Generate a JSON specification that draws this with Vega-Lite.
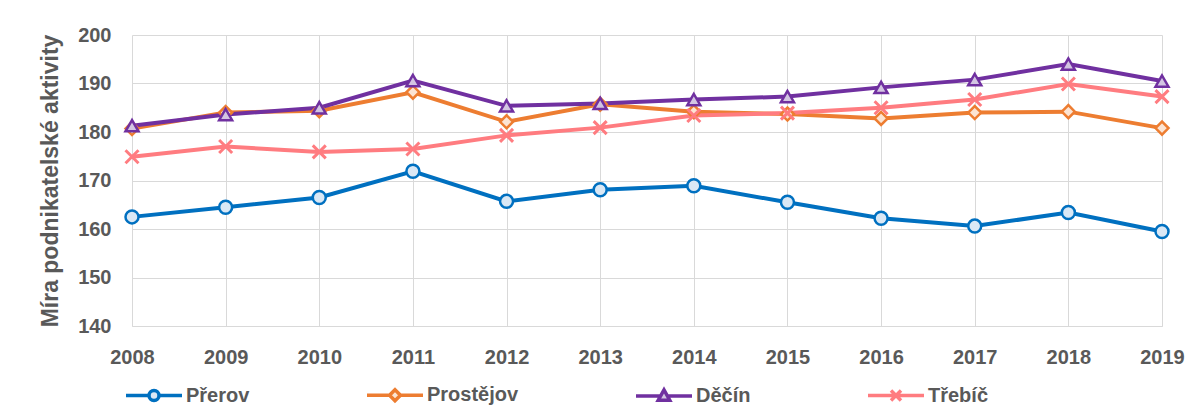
{
  "$schema": "https://vega.github.io/schema/vega-lite/v6.json",
  "width": 1030,
  "height": 291,
  "autosize": {"type": "none"},
  "padding": {"left": 132, "top": 35, "right": 28, "bottom": 89},
  "background": "#ffffff",
  "config": {
    "view": {"stroke": null},
    "font": "Liberation Sans",
    "axis": {
      "labelFont": "Liberation Sans",
      "labelFontSize": 20,
      "labelFontWeight": "bold",
      "labelColor": "#595959",
      "titleFont": "Liberation Sans",
      "titleColor": "#595959",
      "gridColor": "#d9d9d9",
      "gridWidth": 1,
      "gridOpacity": 1,
      "domainColor": "#d9d9d9",
      "ticks": false,
      "tickSize": 0
    },
    "legend": {
      "labelFont": "Liberation Sans",
      "labelFontSize": 20,
      "labelFontWeight": "bold",
      "labelColor": "#595959"
    }
  },
  "data": {
    "values": [
      {"year": 2008, "city": "Přerov", "value": 162.5},
      {"year": 2009, "city": "Přerov", "value": 164.5},
      {"year": 2010, "city": "Přerov", "value": 166.5},
      {"year": 2011, "city": "Přerov", "value": 171.9},
      {"year": 2012, "city": "Přerov", "value": 165.7},
      {"year": 2013, "city": "Přerov", "value": 168.1},
      {"year": 2014, "city": "Přerov", "value": 168.9},
      {"year": 2015, "city": "Přerov", "value": 165.5},
      {"year": 2016, "city": "Přerov", "value": 162.2},
      {"year": 2017, "city": "Přerov", "value": 160.6},
      {"year": 2018, "city": "Přerov", "value": 163.4},
      {"year": 2019, "city": "Přerov", "value": 159.5},
      {"year": 2008, "city": "Prostějov", "value": 180.7},
      {"year": 2009, "city": "Prostějov", "value": 184.0},
      {"year": 2010, "city": "Prostějov", "value": 184.4},
      {"year": 2011, "city": "Prostějov", "value": 188.2},
      {"year": 2012, "city": "Prostějov", "value": 182.1},
      {"year": 2013, "city": "Prostějov", "value": 185.7},
      {"year": 2014, "city": "Prostějov", "value": 184.2},
      {"year": 2015, "city": "Prostějov", "value": 183.7},
      {"year": 2016, "city": "Prostějov", "value": 182.8},
      {"year": 2017, "city": "Prostějov", "value": 184.0},
      {"year": 2018, "city": "Prostějov", "value": 184.2},
      {"year": 2019, "city": "Prostějov", "value": 180.8},
      {"year": 2008, "city": "Děčín", "value": 181.3},
      {"year": 2009, "city": "Děčín", "value": 183.6},
      {"year": 2010, "city": "Děčín", "value": 185.0},
      {"year": 2011, "city": "Děčín", "value": 190.6},
      {"year": 2012, "city": "Děčín", "value": 185.4},
      {"year": 2013, "city": "Děčín", "value": 185.9},
      {"year": 2014, "city": "Děčín", "value": 186.7},
      {"year": 2015, "city": "Děčín", "value": 187.3},
      {"year": 2016, "city": "Děčín", "value": 189.2},
      {"year": 2017, "city": "Děčín", "value": 190.8},
      {"year": 2018, "city": "Děčín", "value": 194.0},
      {"year": 2019, "city": "Děčín", "value": 190.5},
      {"year": 2008, "city": "Třebíč", "value": 174.9},
      {"year": 2009, "city": "Třebíč", "value": 177.0},
      {"year": 2010, "city": "Třebíč", "value": 175.9},
      {"year": 2011, "city": "Třebíč", "value": 176.5},
      {"year": 2012, "city": "Třebíč", "value": 179.3},
      {"year": 2013, "city": "Třebíč", "value": 180.9},
      {"year": 2014, "city": "Třebíč", "value": 183.4},
      {"year": 2015, "city": "Třebíč", "value": 183.9},
      {"year": 2016, "city": "Třebíč", "value": 185.0},
      {"year": 2017, "city": "Třebíč", "value": 186.7},
      {"year": 2018, "city": "Třebíč", "value": 189.9},
      {"year": 2019, "city": "Třebíč", "value": 187.3}
    ]
  },
  "encoding": {
    "x": {
      "field": "year",
      "type": "quantitative",
      "scale": {"domain": [2008, 2019], "nice": false, "zero": false},
      "axis": {
        "title": null,
        "values": [2008, 2009, 2010, 2011, 2012, 2013, 2014, 2015, 2016, 2017, 2018, 2019],
        "format": "d",
        "labelPadding": 21,
        "labelFlush": false,
        "domain": true
      }
    },
    "y": {
      "field": "value",
      "type": "quantitative",
      "scale": {"domain": [140, 200], "nice": false, "zero": false},
      "axis": {
        "title": "Míra podnikatelské aktivity",
        "titleFontSize": 23,
        "titleFontWeight": "bold",
        "titlePadding": 15,
        "values": [140, 150, 160, 170, 180, 190, 200],
        "labelPadding": 21,
        "domain": false
      }
    },
    "stroke": {
      "field": "city",
      "type": "nominal",
      "sort": ["Přerov", "Prostějov", "Děčín", "Třebíč"],
      "scale": {
        "domain": ["Přerov", "Prostějov", "Děčín", "Třebíč"],
        "range": ["#0070c0", "#ed7d31", "#7030a0", "#ff7c80"]
      },
      "legend": {
        "title": null,
        "orient": "bottom",
        "direction": "horizontal",
        "offset": 18,
        "symbolSize": 100,
        "symbolStrokeWidth": 3.5,
        "symbolOffset": 12,
        "labelOffset": 22,
        "columnPadding": 110,
        "encode": {
          "symbols": {
            "update": {
              "shape": {"signal": "datum.value === 'Přerov' ? 'M-5.6,0H-1M1,0H5.6M1,0A1,1,0,1,1,-1,0A1,1,0,1,1,1,0Z' : datum.value === 'Prostějov' ? 'M-5.6,0H-1.1M1.1,0H5.6M-1.1,0L0,-1.1L1.1,0L0,1.1Z' : datum.value === 'Děčín' ? 'M-5.6,0H-0.67M0.67,0H5.6M0,-1.2L1.15,0.85L-1.15,0.85Z' : 'M-5.6,0H5.6M-1,-1L1,1M1,-1L-1,1'"},
              "fill": {"signal": "datum.value === 'Přerov' ? '#dae8f5' : datum.value === 'Prostějov' ? '#fce4d3' : datum.value === 'Děčín' ? '#d3c5e2' : 'transparent'"},
              "strokeWidth": {"value": 3.5},
              "opacity": {"value": 1}
            }
          }
        }
      }
    }
  },
  "layer": [
    {
      "mark": {"type": "line", "strokeWidth": 4},
      "encoding": {
        "detail": {"field": "city"}
      }
    },
    {
      "transform": [{"filter": "datum.city === 'Přerov'"}],
      "mark": {"type": "point", "shape": "circle", "filled": false, "fill": "#dae8f5", "size": 169, "strokeWidth": 2.5, "opacity": 1}
    },
    {
      "transform": [{"filter": "datum.city === 'Prostějov'"}],
      "mark": {"type": "point", "shape": "diamond", "filled": false, "fill": "#fce4d3", "size": 169, "strokeWidth": 2.5, "opacity": 1}
    },
    {
      "transform": [{"filter": "datum.city === 'Děčín'"}],
      "mark": {"type": "point", "shape": "triangle-up", "filled": false, "fill": "#d3c5e2", "size": 169, "strokeWidth": 2.5, "opacity": 1}
    },
    {
      "transform": [{"filter": "datum.city === 'Třebíč'"}],
      "mark": {"type": "point", "shape": "M-1,-1L1,1M1,-1L-1,1", "filled": false, "fill": "transparent", "size": 169, "strokeWidth": 3, "opacity": 1}
    }
  ]
}
